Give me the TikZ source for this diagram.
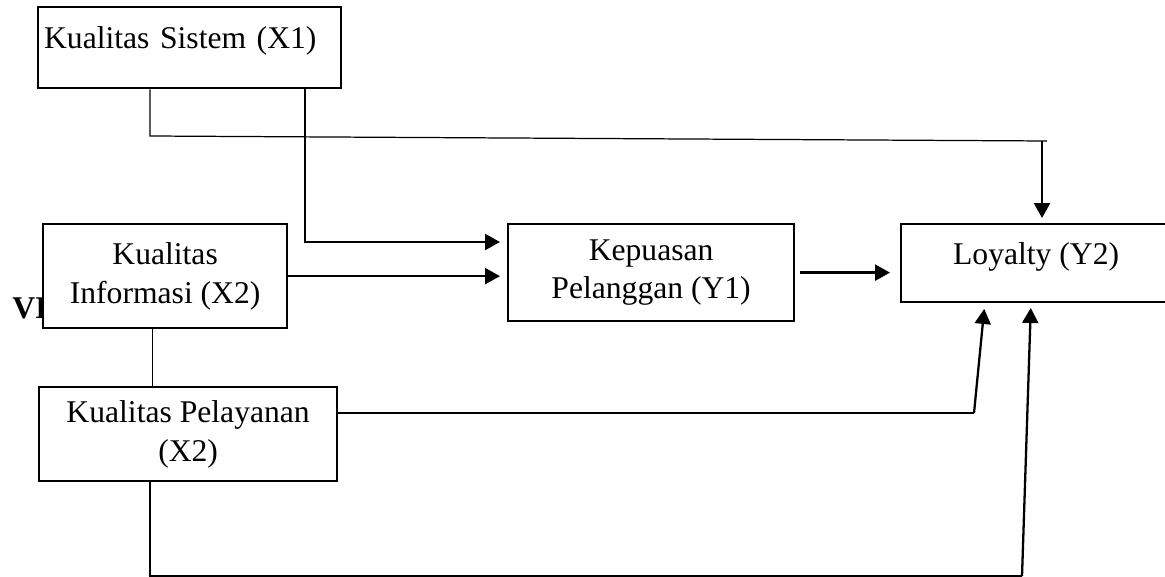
\documentclass[tikz,border=0pt]{standalone}
\usepackage{fontspec}
\setmainfont{Liberation Serif}
\usetikzlibrary{arrows.meta}

\begin{document}
\begin{tikzpicture}[x=0.02cm,y=-0.02cm,
  box/.style={draw,line width=1.3pt,fill=white,inner sep=0pt,align=center,font=\fontsize{18}{22}\selectfont},
  arr/.style={line width=1.3pt,-{Triangle[length=0.3cm,width=0.32cm]}},
  thinline/.style={line width=0.7pt}]
\useasboundingbox (0,0) rectangle (1165,577);
\clip (0,0) rectangle (1165,577);

\node[anchor=base west,inner sep=0pt,font=\fontsize{18}{22}\selectfont\bfseries] (vi) at (12,318) {VI};

\node[box,anchor=north west,align=left,text width=5.82cm,inner xsep=0.12cm,text height=0.82cm,text depth=0.8cm] (sys) at (37,6) {Kualitas Sistem (X1)};
\node[box,anchor=north west,minimum width=4.88cm,minimum height=2.08cm] (inf) at (42,223) {Kualitas\\Informasi (X2)};
\node[box,anchor=north west,minimum width=5.72cm,minimum height=1.94cm] (kep) at (507,223) {Kepuasan\\Pelanggan (Y1)};
\node[box,anchor=north west,minimum width=5.4cm,text height=0.8cm,text depth=0.76cm] (loy) at (900,223) {Loyalty (Y2)};
\node[box,anchor=north west,minimum width=5.96cm,minimum height=1.88cm] (pel) at (38,386) {Kualitas Pelayanan\\(X2)};

\coordinate (k1) at (150,136);
\coordinate (k2) at (1047,141);
\coordinate (k3) at (1042,141);
\coordinate (k4) at (305,242);
\coordinate (k5) at (974,413);
\coordinate (k6) at (985,301);
\coordinate (k7) at (150,576);
\coordinate (k8) at (1022,576);
\coordinate (k9) at (1031,301);

% X1
\draw[thinline] (sys.south -| k1) -- (k1) -- (k2);
\draw[arr,shorten >=0.1cm] (k3) -- (k3 |- loy.north);
\draw[arr,shorten >=0.14cm] (sys.south -| k4) -- (k4) -- (k4 -| kep.west);

% X2
\draw[arr,shorten >=0.14cm] (inf.east) -- (inf.east -| kep.west);
\draw[thinline] ([xshift=-0.26cm]inf.south) -- ([xshift=-0.26cm]inf.south |- pel.north);

% Y1
\draw[arr,shorten <=0.1cm,shorten >=0.2cm] (kep.east) -- (kep.east -| loy.west);

% X3
\draw[thinline] (pel.east |- k5) -- (k5);
\draw[arr,shorten >=0.16cm] (k5) -- (k6);
\draw[thinline] (pel.south -| k7) -- (k7) -- (k8);
\draw[arr,shorten >=0.14cm] (k8) -- (k9);
\end{tikzpicture}
\end{document}
